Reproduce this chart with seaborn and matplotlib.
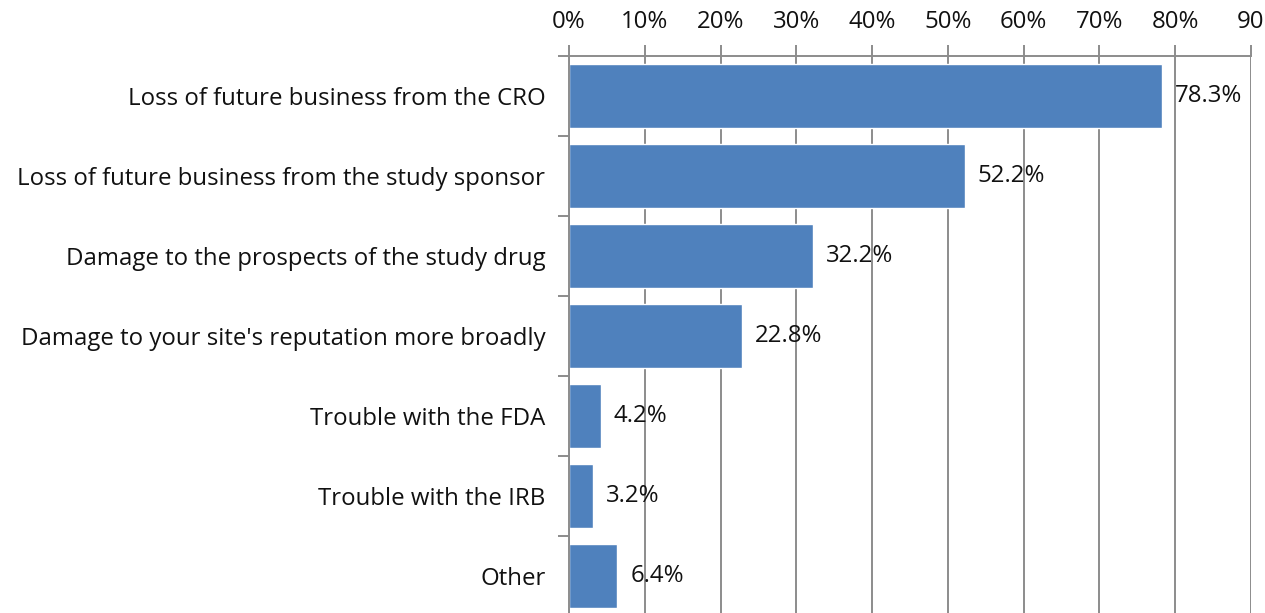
import matplotlib
matplotlib.use("Agg")
import matplotlib.pyplot as plt
import seaborn as sns
import pandas as pd
import numpy as np

categories = [
    "Loss of future business from the CRO",
    "Loss of future business from the study sponsor",
    "Damage to the prospects of the study drug",
    "Damage to your site's reputation more broadly",
    "Trouble with the FDA",
    "Trouble with the IRB",
    "Other",
]
values = [78.3, 52.2, 32.2, 22.8, 4.2, 3.2, 6.4]
tick_values = [0, 10, 20, 30, 40, 50, 60, 70, 80, 90]
tick_labels = ["0%", "10%", "20%", "30%", "40%", "50%", "60%", "70%", "80%", "90"]

sns.set_theme(style="white")
plt.rcParams["font.family"] = ["Open Sans", "DejaVu Sans"]

df = pd.DataFrame({"category": categories, "value": values})

fig = plt.figure(figsize=(12.65, 6.13), dpi=100)
ax = fig.add_axes([0.4498, -0.0049, 0.5391, 0.9135])

grid_color = "#8c8c8c"
fs = 17.3
for v in tick_values:
    ax.axvline(v, color=grid_color, lw=1.4, zorder=0)

sns.barplot(data=df, x="value", y="category", orient="h", color="#4F81BD",
            saturation=1, width=0.8, ax=ax, zorder=2)

for i, v in enumerate(values):
    ax.text(v + 1.7, i, f"{v:.1f}%", va="center", ha="left",
            fontsize=fs, color="#111111", zorder=3)

ax.set_xlim(0, 90)
ax.set_ylim(len(categories) - 0.5, -0.5)
ax.xaxis.tick_top()
ax.set_xticks(tick_values)
ax.set_xticklabels(tick_labels, fontsize=fs, color="#111111")
ax.tick_params(axis="x", which="major", direction="out", length=8, width=1.4,
               color=grid_color, pad=8, top=True, bottom=False)

ax.set_yticks(range(len(categories)))
ax.set_yticklabels(categories, fontsize=fs, color="#111111")
ax.set_yticks(np.arange(-0.5, len(categories), 1.0), minor=True)
ax.tick_params(axis="y", which="major", length=0, pad=17)
ax.tick_params(axis="y", which="minor", direction="out", length=8, width=1.4,
               color=grid_color, left=True)

ax.set_xlabel("")
ax.set_ylabel("")
for s in ["right", "bottom"]:
    ax.spines[s].set_visible(False)
for s in ["left", "top"]:
    ax.spines[s].set_color(grid_color)
    ax.spines[s].set_linewidth(1.4)

fig.savefig("out.png", dpi=100)
